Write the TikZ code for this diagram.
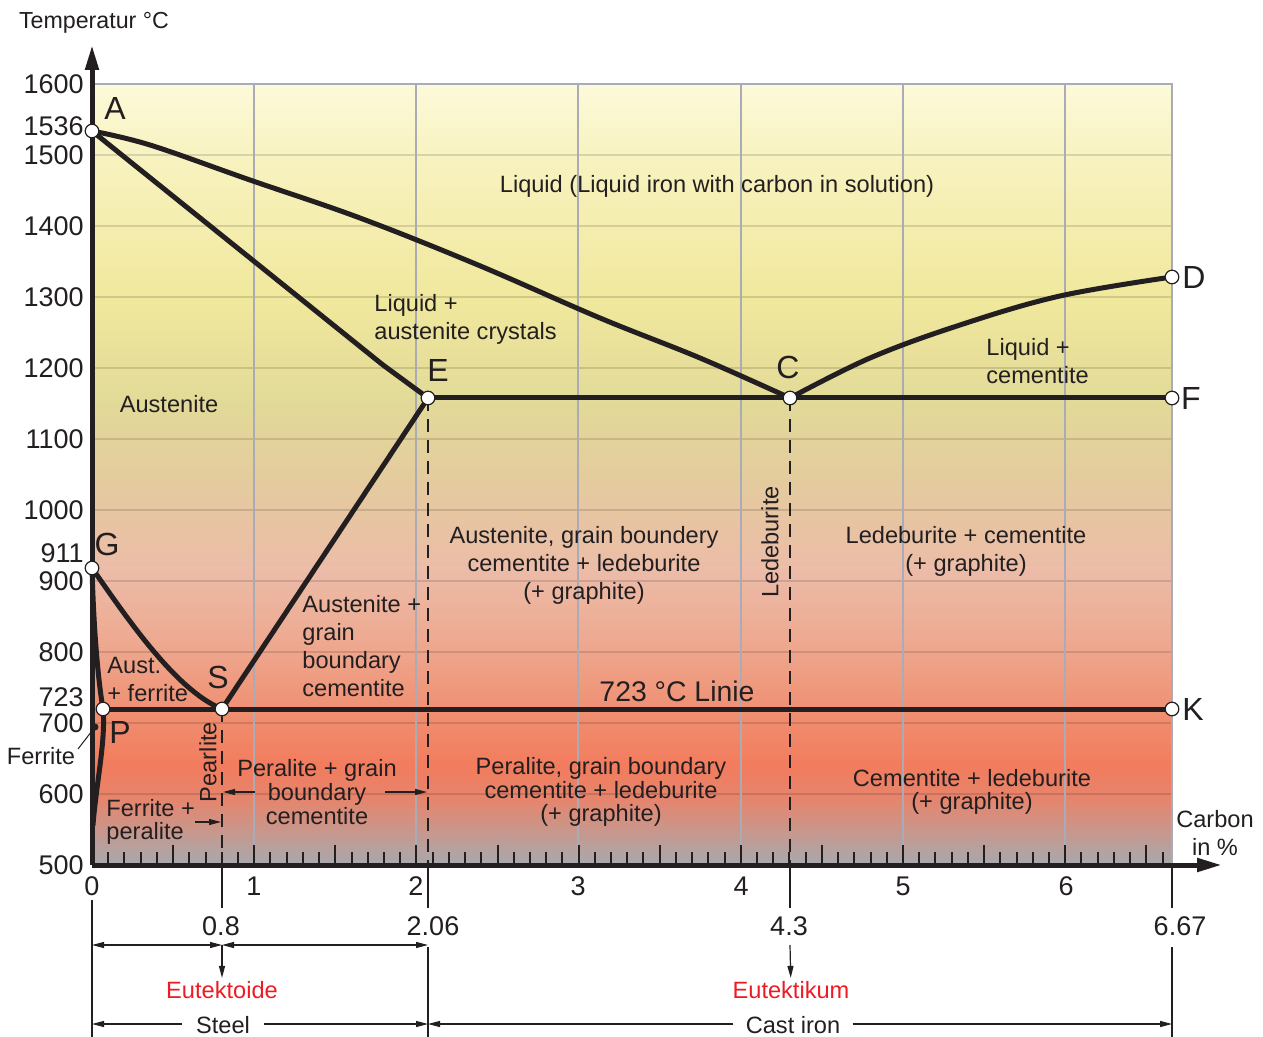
\documentclass[tikz,border=0pt]{standalone}
\usepackage{fontspec}
\setmainfont{Liberation Sans}
\usetikzlibrary{arrows.meta}
\definecolor{ink}{HTML}{231F20}
\definecolor{gridv}{HTML}{A9ABB6}
\definecolor{eured}{HTML}{ED1C24}
\definecolor{g0}{HTML}{FCFAD9}
\definecolor{g1}{HTML}{F8F2BF}
\definecolor{g2}{HTML}{F0E89C}
\definecolor{g3}{HTML}{E2DA98}
\definecolor{g4}{HTML}{E4CB9E}
\definecolor{g5}{HTML}{ECBCA8}
\definecolor{g6}{HTML}{EEA68D}
\definecolor{g7}{HTML}{F08C6E}
\definecolor{g8}{HTML}{F27C5D}
\definecolor{g9}{HTML}{E5856E}
\definecolor{g10}{HTML}{C39A91}
\definecolor{g11}{HTML}{A7A9AD}
\begin{document}
\begin{tikzpicture}[x=0.5pt,y=-0.5pt,
  lbl/.style={font=\fontsize{11.8}{14}\selectfont,text=ink,inner sep=0pt},
  lblt/.style={font=\fontsize{11.8}{11.8}\selectfont,text=ink,inner sep=0pt},
  numl/.style={font=\fontsize{13.5}{16}\selectfont,text=ink,inner sep=0pt},
  ptl/.style={font=\fontsize{16}{19}\selectfont,text=ink,inner sep=0pt},
  phase/.style={draw=ink,line width=2.5pt,line join=round,line cap=round},
  axisl/.style={draw=ink,line width=2.5pt,-{Triangle[length=12.5pt,width=6.5pt]}},
  gridh/.style={draw=black,opacity=0.13,line width=1.4pt},
  gridvl/.style={draw=gridv,line width=1pt},
  tickm/.style={draw=ink,line width=1pt},
  dashv/.style={draw=ink,line width=0.8pt,dash pattern=on 6.5pt off 4pt},
  solidv/.style={draw=ink,line width=0.9pt},
  dimline/.style={draw=ink,line width=0.6pt},
  arr/.style={-{Triangle[length=6pt,width=3pt]}},
  arrb/.style={{Triangle[length=6pt,width=3pt]}-{Triangle[length=6pt,width=3pt]}},
  pnt/.style={circle,draw=ink,fill=white,line width=0.6pt,minimum size=6.8pt,inner sep=0pt},
]
\useasboundingbox (0,0) rectangle (1263,1037);
\fill[white] (0,0) rectangle (1263,1037);
% background gradient
\foreach \ya/\yb/\ca/\cb in {84/160/g0/g1,160/300/g1/g2,300/400/g2/g3,400/480/g3/g4,480/570/g4/g5,570/650/g5/g6,650/720/g6/g7,720/765/g7/g8,765/800/g8/g9,800/835/g9/g10,835/865/g10/g11}
  {\shade[top color=\ca,bottom color=\cb] (92,\ya) rectangle (1172,\yb+1);}
% grid
\foreach \y in {155,226,297,368,439,510,581,652,723,794} \draw[gridh] (92,\y) -- (1172,\y);
\foreach \x in {254,416,578,741,903,1065} \draw[gridvl] (\x,84) -- (\x,865);
\draw[gridvl] (92,84) -- (1172,84) -- (1172,865);
% ticks
\foreach \k in {1,...,66}{
  \pgfmathsetmacro\xx{92+16.22*\k}
  \pgfmathsetmacro\yt{mod(\k,5)==0?845:852}
  \draw[tickm] (\xx,\yt) -- (\xx,865);}
% key points
\coordinate (A) at (92,131);
\coordinate (E) at (428,398);
\coordinate (C) at (790,398);
\coordinate (F) at (1172,398);
\coordinate (D) at (1172,277);
\coordinate (G) at (92,568);
\coordinate (S) at (222,709);
\coordinate (P) at (103,709);
\coordinate (K) at (1172,709);
\coordinate (O) at (92,865);
\coordinate (Ytop) at (92,45);
\coordinate (Xend) at (1222,865);
\coordinate (Eb) at (428,865);
\coordinate (Sb) at (222,865);
\coordinate (Cb) at (790,865);
\coordinate (Kb) at (1172,865);
\coordinate (Pf) at (93,825);
% dashed
\draw[dashv] (E) -- (Eb);
\draw[dashv] (S) -- (Sb);
\draw[dashv] (C) -- (Cb);
% phase lines
\draw[phase] plot[smooth,tension=0.6] coordinates {(A) (150,145) (250,180) (360,218) (478,265) (600,318) (700,358) (C)};
\draw[phase] (A) -- (383,365) -- (E);
\draw[phase] plot[smooth,tension=0.6] coordinates {(C) (870,358) (960,325) (1060,296) (D)};
\draw[phase] (E) -- (S);
\draw[phase] (E) -- (F);
\draw[phase] (P) -- (K);
\draw[phase] (G) .. controls (125,615) and (175,690) .. (S);
\draw[phase] (G) .. controls (94,640) and (99,685) .. (P);
\draw[phase] (P) .. controls (106,740) and (96,785) .. (Pf);
% axes
\draw[axisl] (O) -- (Ytop);
\draw[axisl] (O) -- (Xend);
% points
\foreach \p in {A,E,C,F,D,G,S,P,K} \node[pnt] (c\p) at (\p) {};
\node[circle,fill=ink,minimum size=3.5pt,inner sep=0pt] (fd) at (95,727) {};
\coordinate (fl) at (78,749);
\draw[ink,line width=0.5pt] (fd) -- (fl);
% small arrows in plot
\coordinate (pa1) at (255,792); \coordinate (pa2) at (223,792);
\coordinate (pb1) at (385,792); \coordinate (pb2) at (427,792);
\coordinate (fa1) at (195,822); \coordinate (fa2) at (221,822);
\draw[dimline,arr] (pa1) -- (pa2);
\draw[dimline,arr] (pb1) -- (pb2);
\draw[dimline,arr] (fa1) -- (fa2);
% below axis verticals
\coordinate (v0a) at (92,900); \coordinate (v0b) at (92,1037);
\coordinate (vSa) at (222,908);
\coordinate (vEa) at (428,908); \coordinate (vEb) at (428,947); \coordinate (vEc) at (428,1037);
\coordinate (vCa) at (790,908);
\coordinate (vKa) at (1172,908); \coordinate (vKb) at (1172,947); \coordinate (vKc) at (1172,1037);
\draw[solidv] (v0a) -- (v0b);
\draw[solidv] (Sb) -- (vSa);
\draw[solidv] (Eb) -- (vEa);
\draw[solidv] (vEb) -- (vEc);
\draw[solidv] (Cb) -- (vCa);
\draw[solidv] (Kb) -- (vKa);
\draw[solidv] (vKb) -- (vKc);
% dimension rows
\coordinate (r1a) at (92,945); \coordinate (r1b) at (222,945);
\coordinate (r1c) at (428,945); \coordinate (r1d) at (790,945);
\draw[dimline,arrb] (r1a) -- (r1b);
\draw[dimline,arrb] (r1b) -- (r1c);
\node[lbl,text=eured,inner sep=1.5pt] (eutoid) at (222,990) {Eutektoide};
\node[lbl,text=eured,inner sep=1.5pt] (eutik) at (791,990) {Eutektikum};
\draw[dimline,arr] (r1b) -- (eutoid);
\draw[dimline,arr] (r1d) -- (eutik);
\coordinate (r2a) at (92,1024); \coordinate (r2c) at (428,1024); \coordinate (r2e) at (1172,1024);
\node[lbl,inner xsep=7pt] (steel) at (223,1025) {Steel};
\node[lbl,inner xsep=6pt] (cast) at (793,1025) {Cast iron};
\draw[dimline,arr] (steel.west |- r2a) -- (r2a);
\draw[dimline,arr] (steel.east |- r2a) -- (r2c);
\draw[dimline,arr] (cast.west |- r2a) -- (r2c);
\draw[dimline,arr] (cast.east |- r2a) -- (r2e);
% axis texts
\node[lbl,font=\fontsize{11.6}{14}\selectfont] (tT) at (94,23) {Temperatur °C};
\foreach \t/\y in {1600/84,1536/126,1500/155,1400/226,1300/297,1200/368,1100/439,1000/510,911/553,900/581,800/652,723/697,700/723,600/794,500/865}
  \node[numl,anchor=east] (y\t) at (84,\y) {\t};
\foreach \t/\x in {0/92,1/254,2/416,3/578,4/741,5/903,6/1066}
  \node[numl] (x\t) at (\x,886) {\t};
\node[numl] (x08) at (221,926) {0.8};
\node[numl] (x206) at (433,926) {2.06};
\node[numl] (x43) at (789,926) {4.3};
\node[numl] (x667) at (1180,926) {6.67};
\node[lbl,align=center] (carb) at (1215,833) {Carbon\\in \%};
% point letters
\node[ptl] (lA) at (115,108) {A};
\node[ptl] (lE) at (438,370) {E};
\node[ptl] (lC) at (788,367) {C};
\node[ptl] (lD) at (1194,277) {D};
\node[ptl] (lF) at (1191,398) {F};
\node[ptl] (lG) at (107,544) {G};
\node[ptl] (lS) at (218,677) {S};
\node[ptl] (lP) at (120,732) {P};
\node[ptl] (lK) at (1193,709) {K};
% region labels
\node[lbl] (liq) at (717,186) {Liquid (Liquid iron with carbon in solution)};
\node[lbl,align=left,anchor=west] (liqa) at (374,319) {Liquid +\\austenite crystals};
\node[lbl] (aus) at (169,404) {Austenite};
\node[lbl,align=left,anchor=west] (liqc) at (986,361) {Liquid +\\cementite};
\node[lbl,align=center] (agb) at (584,565) {Austenite, grain boundery\\cementite + ledeburite\\(+ graphite)};
\node[lbl,rotate=90] (led) at (770,542) {Ledeburite};
\node[lbl,align=center] (ledc) at (966,551) {Ledeburite + cementite\\(+ graphite)};
\node[lbl,align=left,anchor=west] (agbc) at (302,646) {Austenite +\\grain\\boundary\\cementite};
\node[lbl,align=left,anchor=west] (ausf) at (107,679) {Aust.\\+ ferrite};
\node[lbl,font=\fontsize{14.2}{17}\selectfont] (linie) at (677,691) {723 °C Linie};
\node[lbl,rotate=90] (pear) at (208,762) {Pearlite};
\node[lblt,align=center] (pgb) at (317,792) {Peralite + grain\\boundary\\cementite};
\node[lblt,align=center] (pgbl) at (601,792) {Peralite, grain boundary\\cementite + ledeburite\\(+ graphite)};
\node[lblt,align=center] (cl) at (972,792) {Cementite + ledeburite\\(+ graphite)};
\node[lblt,align=left,anchor=west] (fp) at (106,822) {Ferrite +\\peralite};
\node[lbl] (fer) at (41,756) {Ferrite};
\end{tikzpicture}
\end{document}
